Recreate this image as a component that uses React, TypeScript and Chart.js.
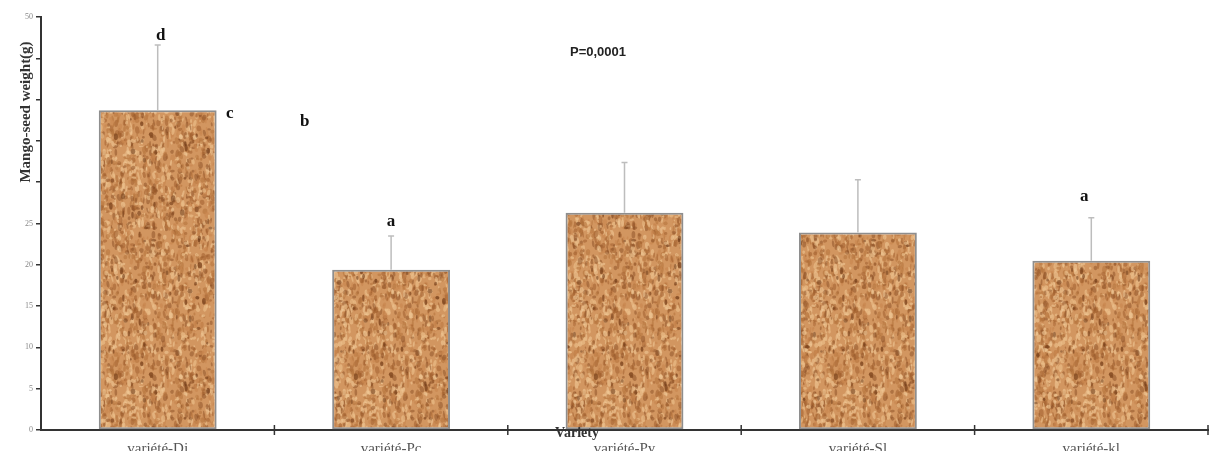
import React, { useEffect, useRef } from "react";
import { Chart, registerables } from "chart.js";

Chart.register(...registerables);

// Mean mango-seed weight (g) per variety, with standard deviation
const varieties = ["variété-Dj", "variété-Pc", "variété-Py", "variété-Sl", "variété-kl"];
const meanWeight = [38.7, 19.4, 26.3, 23.9, 20.5];
const stdDev = [7.9, 4.1, 6.1, 6.4, 5.2];
const yTicks = [0, 5, 10, 15, 20, 25, 30, 35, 40, 45, 50];

// Significance group letters: text, category index, value on y axis, x shift in px
const groupText = ["d", "c", "b", "a", "a"];
const groupCategory = [0, 0, 0, 1, 4];
const groupValue = [47.7, 38.3, 37.3, 25.2, 28.2];
const groupShift = [3, 72, 147, 0, -7];

const pValueText = "P=0,0001";
const xTitle = "Variety";
const yTitle = "Mango-seed weight(g)";

// Deterministic cork-like texture for the bars (seamless tile)
function makeCorkPattern(): CanvasPattern | string {
  const W = 240;
  const H = 240;
  const c = document.createElement("canvas");
  c.width = W;
  c.height = H;
  const ctx = c.getContext("2d");
  if (!ctx) return "#cf945c";
  let seed = 1234567;
  const rnd = () => {
    seed = (seed * 1103515245 + 12345) & 0x7fffffff;
    return seed / 0x7fffffff;
  };
  ctx.fillStyle = "#d29660";
  ctx.fillRect(0, 0, W, H);
  const blob = (x: number, y: number, rx: number, ry: number, rot: number) => {
    for (let ox = -W; ox <= W; ox += W) {
      for (let oy = -H; oy <= H; oy += H) {
        ctx.beginPath();
        ctx.ellipse(x + ox, y + oy, rx, ry, rot, 0, Math.PI * 2);
        ctx.fill();
      }
    }
  };
  const palette = [
    "rgba(160,94,46,0.55)",
    "rgba(182,116,62,0.6)",
    "rgba(234,188,136,0.7)",
    "rgba(130,72,32,0.45)",
    "rgba(240,200,150,0.6)",
    "rgba(200,134,78,0.6)",
  ];
  for (let i = 0; i < 4600; i++) {
    const x = rnd() * W;
    const y = rnd() * H;
    const rx = 0.7 + rnd() * 1.7;
    const ry = 1 + rnd() * 3;
    ctx.fillStyle = palette[Math.floor(rnd() * palette.length)];
    blob(x, y, rx, ry, rnd() * 0.6 - 0.3);
  }
  for (let i = 0; i < 150; i++) {
    const x = rnd() * W;
    const y = rnd() * H;
    ctx.fillStyle = "rgba(110,56,22,0.55)";
    blob(x, y, 0.8 + rnd() * 1.6, 1.2 + rnd() * 2.4, 0);
  }
  // blur over a 3x3 tiling so the tile edges stay seamless
  const big = document.createElement("canvas");
  big.width = W * 3;
  big.height = H * 3;
  const bctx = big.getContext("2d");
  if (!bctx) return "#cf945c";
  bctx.filter = "blur(0.6px)";
  for (let i = 0; i < 3; i++) for (let j = 0; j < 3; j++) bctx.drawImage(c, i * W, j * H);
  const out = document.createElement("canvas");
  out.width = W;
  out.height = H;
  const octx = out.getContext("2d");
  if (!octx) return "#cf945c";
  octx.drawImage(big, W, H, W, H, 0, 0, W, H);
  const p = octx.createPattern(out, "repeat");
  return p || "#cf945c";
}

const decorations = {
  id: "decorations",
  afterDatasetsDraw(chart: any) {
    const { ctx, scales, chartArea } = chart;
    const xs = scales.x;
    const ys = scales.y;
    ctx.save();

    // error bars
    ctx.strokeStyle = "#bdbdbd";
    ctx.lineWidth = 1.5;
    meanWeight.forEach((m, i) => {
      const x = xs.getPixelForValue(i);
      const y0 = ys.getPixelForValue(m);
      const y1 = ys.getPixelForValue(m + stdDev[i]);
      ctx.beginPath();
      ctx.moveTo(x, y0);
      ctx.lineTo(x, y1);
      ctx.moveTo(x - 3, y1);
      ctx.lineTo(x + 3, y1);
      ctx.stroke();
    });

    // x axis tick marks at category boundaries
    ctx.strokeStyle = "#333";
    ctx.lineWidth = 1.5;
    const step = xs.getPixelForValue(1) - xs.getPixelForValue(0);
    for (let i = 0; i < varieties.length; i++) {
      const x = xs.getPixelForValue(i) + step / 2;
      ctx.beginPath();
      ctx.moveTo(x, chartArea.bottom - 5);
      ctx.lineTo(x, chartArea.bottom + 5);
      ctx.stroke();
    }

    // group letters
    ctx.fillStyle = "#111";
    ctx.font = "bold 17px 'Liberation Serif', 'Times New Roman', serif";
    ctx.textAlign = "center";
    ctx.textBaseline = "middle";
    groupText.forEach((t, i) => {
      const x = xs.getPixelForValue(groupCategory[i]) + groupShift[i];
      const y = ys.getPixelForValue(groupValue[i]);
      ctx.fillText(t, x, y);
    });

    // p-value
    ctx.font = "bold 13px 'Liberation Sans', Arial, sans-serif";
    ctx.fillStyle = "#222";
    ctx.fillText(pValueText, 598, 52);

    // x axis title
    ctx.font = "bold 14px 'Liberation Serif', serif";
    ctx.fillStyle = "#333";
    ctx.fillText(xTitle, 577, chartArea.bottom + 3);

    // y axis title on a white box over the tick labels
    ctx.translate(26, 112);
    ctx.rotate(-Math.PI / 2);
    ctx.font = "bold 15px 'Liberation Serif', serif";
    const w = ctx.measureText(yTitle).width;
    ctx.fillStyle = "#fff";
    ctx.fillRect(-w / 2 - 3, -8, w + 6, 16);
    ctx.fillStyle = "#333";
    ctx.fillText(yTitle, 0, 0);
    ctx.restore();
  },
};

export default function App() {
  const ref = useRef<HTMLCanvasElement | null>(null);
  useEffect(() => {
    if (!ref.current) return;
    const pattern = makeCorkPattern();
    const chart = new Chart(ref.current, {
      type: "bar",
      data: {
        labels: varieties,
        datasets: [
          {
            data: meanWeight,
            backgroundColor: pattern as any,
            borderColor: "#8e8e8e",
            borderWidth: 2,
            borderSkipped: false,
            categoryPercentage: 1,
            barPercentage: 0.505,
          },
        ],
      },
      options: {
        responsive: false,
        animation: false,
        layout: { padding: { top: 17, right: 2, left: 0, bottom: 0 } },
        plugins: { legend: { display: false }, tooltip: { enabled: false } },
        scales: {
          x: {
            grid: { display: false },
            border: { display: true, color: "#333", width: 2 },
            ticks: {
              font: { family: "'Liberation Serif', serif", size: 15 },
              color: "#555",
              padding: 2,
            },
            afterFit: (s: any) => {
              s.height = 21;
            },
          },
          y: {
            min: 0,
            max: 50,
            afterBuildTicks: (s: any) => {
              s.ticks = yTicks.map((v) => ({ value: v }));
            },
            grid: {
              drawOnChartArea: false,
              drawTicks: true,
              tickLength: 5,
              color: "#333",
              lineWidth: 1.5,
            },
            border: { display: true, color: "#333", width: 2 },
            ticks: {
              font: { family: "'Liberation Serif', serif", size: 8 },
              color: "#888",
              padding: 3,
            },
            afterFit: (s: any) => {
              s.width = 41;
            },
          },
        },
      },
      plugins: [decorations],
    });
    return () => chart.destroy();
  }, []);
  return (
    <div style={{ position: "absolute", left: 0, top: 0, width: 1210, height: 451, background: "#fff" }}>
      <canvas ref={ref} width={1210} height={451} style={{ display: "block" }} />
    </div>
  );
}
